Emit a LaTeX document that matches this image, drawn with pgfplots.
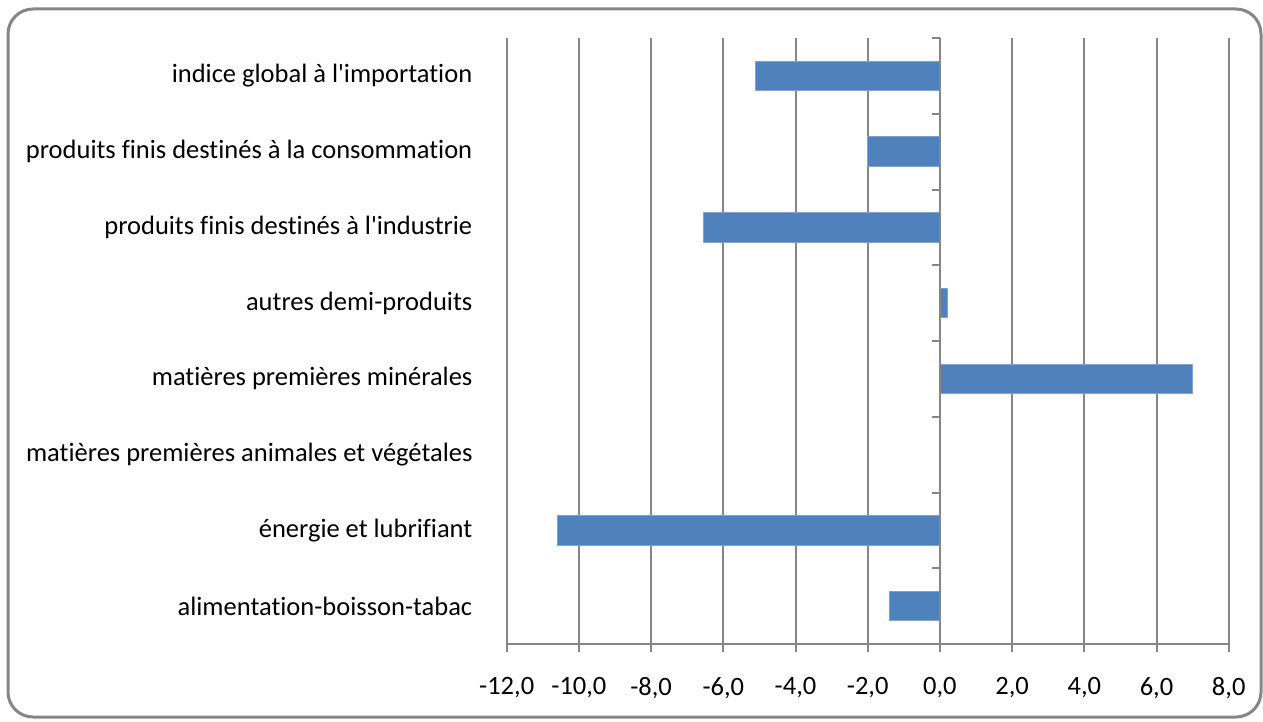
\documentclass[border=0pt]{standalone}
\usepackage{fontspec}
\setmainfont{Carlito}[Ligatures={TeXOff,CommonOff}]
\usepackage{pgfplots}
\pgfplotsset{compat=1.18}
\definecolor{barblue}{HTML}{4F81BD}
\definecolor{baredge}{HTML}{7EA3D0}
\definecolor{gridgray}{HTML}{868686}
\begin{document}
\begin{tikzpicture}
\useasboundingbox (0,0) rectangle (631.5pt,-361pt);
\draw[gridgray, line width=1.5pt, rounded corners=12.5pt] (4pt,-4.5pt) rectangle (630.5pt,-358.5pt);
\begin{axis}[
  at={(253.35pt,-322pt)}, anchor=south west,
  scale only axis, width=361pt, height=303pt,
  xmin=-12, xmax=8, ymin=0.5, ymax=8.5,
  xbar, bar width=14.65pt,
  axis x line*=bottom, axis y line*=left,
  every outer x axis line/.append style={-},
  x axis line style={-, gridgray, line width=1pt},
  y axis line style={draw=none},
  xtick={-12,-10,...,8},
  xticklabels={{-12,0},{-10,0},{-8,0},{-6,0},{-4,0},{-2,0},{0,0},{2,0},{4,0},{6,0},{8,0}},
  xmajorgrids, grid style={gridgray, line width=1pt},
  tick align=outside, major tick length=4pt,
  x tick style={gridgray, line width=1pt},
  ytick={1,...,8},
  y tick style={draw=none},
  yticklabels={alimentation-boisson-tabac, énergie et lubrifiant, matières premières animales et végétales~, matières premières minérales~, autres demi-produits~, produits finis destinés à l'industrie, produits finis destinés à la consommation~, indice global à l'importation~},
  tick label style={font=\fontsize{13.25}{16}\selectfont, text=black},
  yticklabel style={anchor=east, inner sep=0pt, xshift=-13pt},
  xticklabel style={anchor=north, inner sep=0pt, yshift=-12.5pt},
]
\addplot[fill=barblue, draw=baredge, line width=0.5pt] coordinates {
  (-1.4,1) (-10.6,2) (0,3) (7.0,4) (0.2,5) (-6.55,6) (-2.0,7) (-5.1,8)
};
\end{axis}
\begin{axis}[
  at={(253.35pt,-322pt)}, anchor=south west,
  scale only axis, width=361pt, height=303pt,
  xmin=-12, xmax=8, ymin=0.5, ymax=8.5,
  axis x line=none, axis y line=middle,
  every inner y axis line/.append style={-},
  y axis line style={-, gridgray, line width=1pt},
  ytick={0.5,1.5,...,8.5}, yticklabels={},
  tick align=outside, major tick length=4pt,
  y tick style={gridgray, line width=1pt},
]
\addplot[draw=none] coordinates {(0,1)};
\end{axis}
\end{tikzpicture}
\end{document}
